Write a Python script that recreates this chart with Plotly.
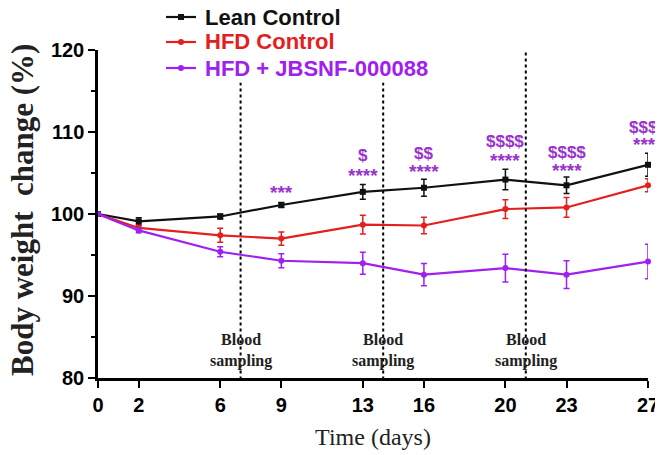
import plotly.graph_objects as go

days = [0, 2, 6, 9, 13, 16, 20, 23, 27]
lean = [100, 99.1, 99.7, 101.1, 102.7, 103.2, 104.2, 103.5, 106.0]
lean_err = [0, 0.45, 0.3, 0.3, 0.9, 1.05, 1.25, 1.0, 1.4]
hfd = [100, 98.3, 97.4, 97.0, 98.7, 98.6, 100.6, 100.8, 103.5]
hfd_err = [0, 0.3, 0.85, 0.8, 1.15, 1.0, 1.15, 1.2, 0.8]
jbs = [100, 98.0, 95.4, 94.3, 94.0, 92.6, 93.4, 92.6, 94.2]
jbs_err = [0, 0.3, 0.6, 0.85, 1.35, 1.35, 1.7, 1.7, 2.1]

series_names = ["Lean Control", "HFD Control", "HFD + JBSNF-000088"]
series_colors = ["#111111", "#e3201e", "#a020f0"]
series_symbols = ["square", "circle", "circle"]

sampling_days = [7, 14, 21]
sampling_tops = [116.0, 116.0, 120.2]
sampling_label = "Blood<br>sampling"

star_days = [9, 13, 16, 20, 23, 27]
star_text = ["***", "****", "****", "****", "****", "****"]
star_y = [102.6, 104.7, 105.2, 106.5, 105.3, 108.5]
dollar_days = [13, 16, 20, 23, 27]
dollar_text = ["$", "$$", "$$$$", "$$$$", "$$$$"]
dollar_y = [107.1, 107.4, 108.8, 107.5, 110.6]

x_ticks = [0, 2, 6, 9, 13, 16, 20, 23, 27]
y_ticks = [80, 90, 100, 110, 120]

ANNO = "#9933cc"

# page has an 8px body margin; plot area should appear at x 98..648, y 50..378
PL, PT, PW, PH = 90, 42, 550, 328
W, H = 663, 455


def px(xd):
    return (xd - 98) / PW


def py(yd):
    return (378 - yd) / PH


fig = go.Figure()
for name, color, sym, vals, errs in zip(series_names, series_colors, series_symbols,
                                        [lean, hfd, jbs], [lean_err, hfd_err, jbs_err]):
    fig.add_trace(go.Scatter(
        x=days, y=vals, name=name, mode="lines+markers",
        line=dict(color=color, width=2.2),
        marker=dict(color=color, size=6, symbol=sym),
        error_y=dict(type="data", array=errs, color=color, thickness=1.5, width=3),
        cliponaxis=False, showlegend=False,
    ))

# legend drawn by hand for tight spacing
leg_y = [17, 42, 68]
for name, color, sym, ly in zip(series_names, series_colors, series_symbols, leg_y):
    fig.add_shape(type="line", xref="paper", yref="paper",
                  x0=px(166), x1=px(196), y0=py(ly), y1=py(ly),
                  line=dict(color=color, width=2.2))
    fig.add_shape(type="rect" if sym == "square" else "circle", xref="paper", yref="paper",
                  x0=px(178), x1=px(184), y0=py(ly + 3), y1=py(ly - 3),
                  fillcolor=color, line=dict(color=color, width=0))
    fig.add_annotation(xref="paper", yref="paper", x=px(203), y=py(ly),
                       xanchor="left", yanchor="middle", showarrow=False,
                       text="<b>" + name + "</b>",
                       font=dict(family="Liberation Sans", size=22, color=color))

for d, top in zip(sampling_days, sampling_tops):
    fig.add_shape(type="line", x0=d, x1=d, y0=79.1, y1=top, xref="x", yref="y",
                  line=dict(color="black", width=2, dash="dot"))
    fig.add_annotation(x=d, y=83.4, xref="x", yref="y", text="<b>" + sampling_label + "</b>",
                       showarrow=False,
                       font=dict(family="Liberation Serif", size=16, color="#222"),
                       align="center")

for d, t, yv in zip(star_days, star_text, star_y):
    fig.add_annotation(x=d, y=yv, text="<b>" + t + "</b>", showarrow=False,
                       font=dict(family="Liberation Sans", size=19, color=ANNO))
for d, t, yv in zip(dollar_days, dollar_text, dollar_y):
    fig.add_annotation(x=d, y=yv, text="<b>" + t + "</b>", showarrow=False,
                       font=dict(family="Liberation Sans", size=17, color=ANNO))

# y-axis title
fig.add_annotation(xref="paper", yref="paper", x=px(22), y=py(210),
                   text="<b>Body weight  change (%)</b>", textangle=-90,
                   showarrow=False, xanchor="center", yanchor="middle",
                   font=dict(family="Liberation Serif", size=31, color="#222"))

fig.update_layout(
    width=W, height=H,
    margin=dict(l=PL, r=W - PL - PW, t=PT, b=H - PT - PH, autoexpand=False),
    paper_bgcolor="white", plot_bgcolor="white",
    font=dict(family="Liberation Sans"),
    showlegend=False,
    xaxis=dict(range=[0, 27], tickvals=x_ticks,
               ticktext=["<b>%d</b>" % v for v in x_ticks],
               showgrid=False, zeroline=False, showline=True, linecolor="black",
               linewidth=2.5, ticks="outside", ticklen=7, tickwidth=2, tickcolor="black",
               tickfont=dict(family="Liberation Sans", size=20, color="black"),
               title=dict(text="Time (days)", standoff=14,
                          font=dict(family="Liberation Serif", size=24, color="#222"))),
    yaxis=dict(range=[80, 120], tickvals=y_ticks,
               ticktext=["<b>%d</b>" % v for v in y_ticks],
               showgrid=False, zeroline=False, showline=True, linecolor="black",
               linewidth=2.5, ticks="outside", ticklen=7, tickwidth=2, tickcolor="black",
               minor=dict(dtick=5, ticks="outside", ticklen=4, tickwidth=1.5, tickcolor="black"),
               tickfont=dict(family="Liberation Sans", size=20, color="black")),
)

fig.write_html("out.html")
